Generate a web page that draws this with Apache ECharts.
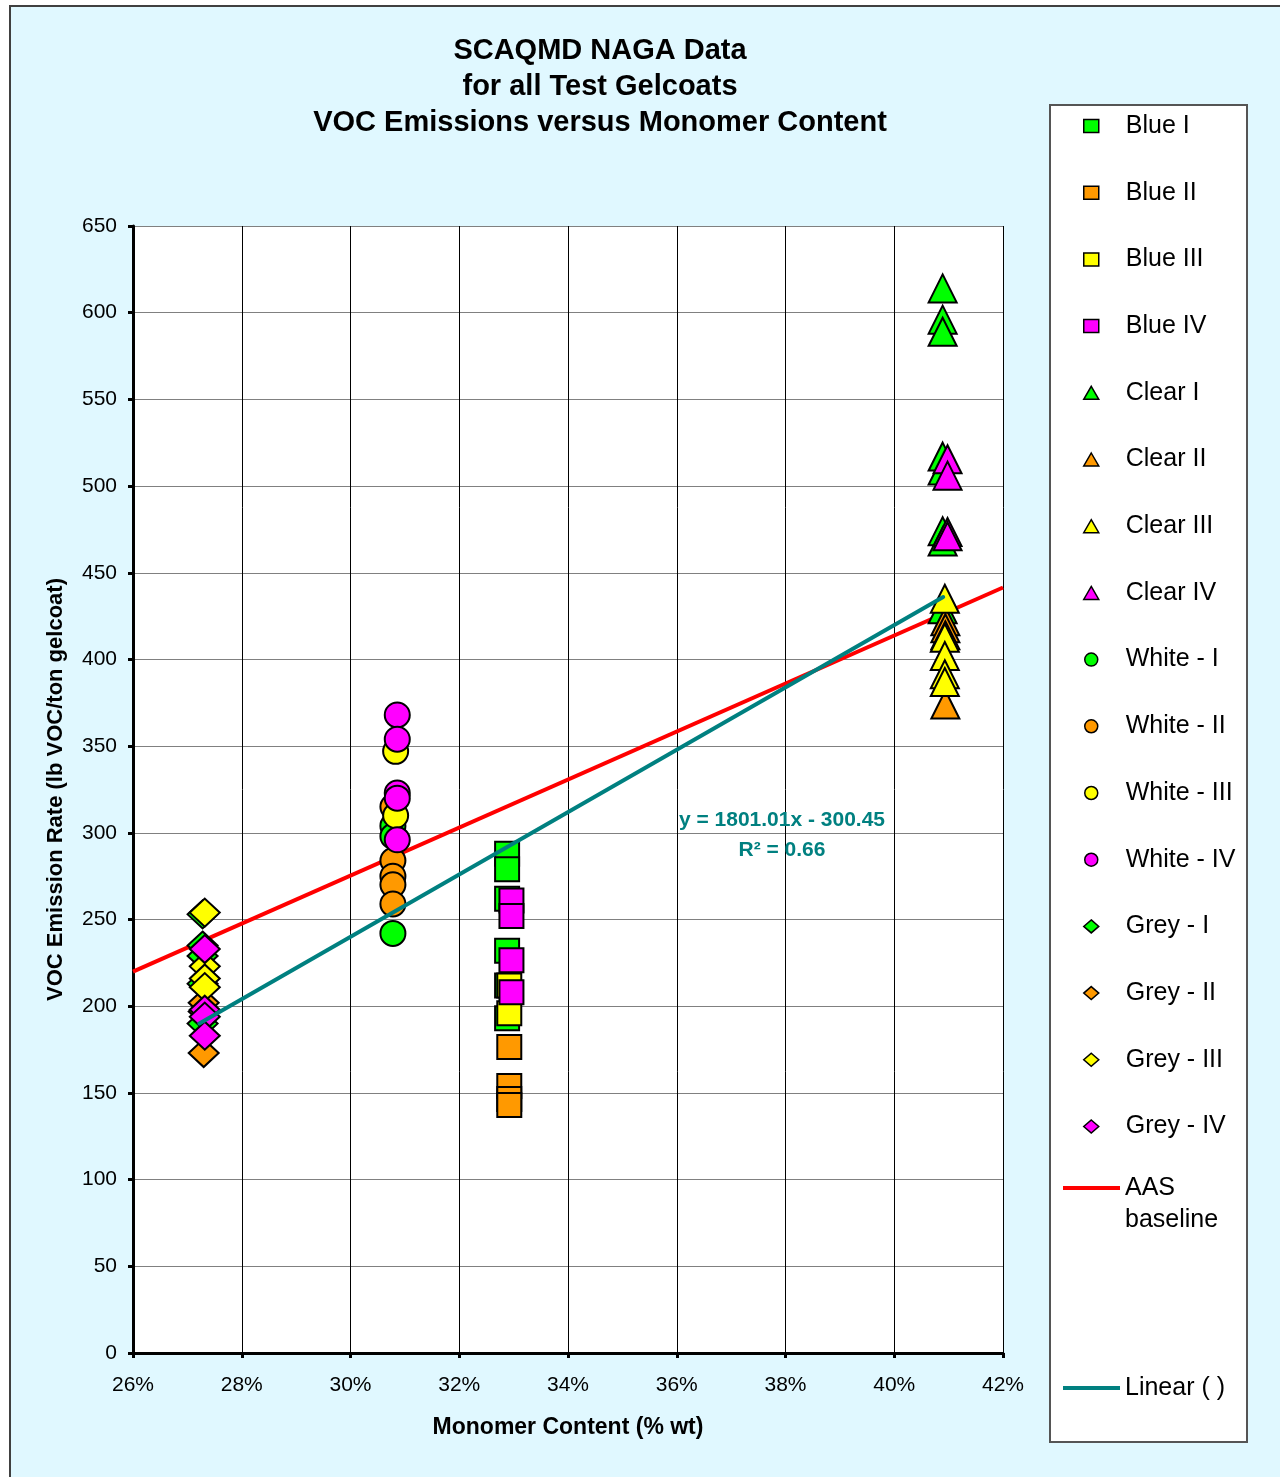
<!DOCTYPE html>
<html><head><meta charset="utf-8">
<script src="https://cdn.jsdelivr.net/npm/echarts@6/dist/echarts.min.js"></script>
<style>
html,body{margin:0;padding:0;background:#fff;width:1280px;height:1477px;overflow:hidden}
#frame{position:absolute;left:9px;top:5px;width:1400px;height:1600px;background:#E0F8FF;border-left:2px solid #404040;border-top:2px solid #404040;}
#chart{position:absolute;left:0;top:0;width:1280px;height:1477px}
</style></head><body><div id="frame"></div><div id="chart"></div>
<script>
// ---- data (x = monomer content %, y = VOC emission rate) ----
const xTicks = [26, 28, 30, 32, 34, 36, 38, 40, 42];
const yTicks = [0, 50, 100, 150, 200, 250, 300, 350, 400, 450, 500, 550, 600, 650];

const blueI_x = 32.88,  blueI   = [288, 279, 262, 232, 212, 193];
const blueII_x = 32.92, blueII  = [176.5, 154, 146.5, 143];
const blueIII_x = 32.92, blueIII = [212, 196];
const blueIV_x = 32.96, blueIV  = [261, 252, 226.5, 208];

const clearI_x = 40.89,  clearI   = [614, 596, 589, 517, 509, 474, 468, 429];
const clearII_x = 40.94, clearII  = [422, 418, 414, 374];
const clearIII_x = 40.93, clearIII = [435, 412.5, 402, 391.5, 387];
const clearIV_x = 40.98, clearIV  = [515.5, 506, 473.5, 471];

const whiteI_x = 30.78,  whiteI   = [304, 298, 242];
const whiteII_x = 30.78, whiteII  = [315, 284, 275, 270, 259];
const whiteIII_x = 30.83, whiteIII = [347, 310];
const whiteIV_x = 30.86, whiteIV  = [368, 354, 323, 320, 296];

const greyI_x = 27.28,  greyI   = [253, 235, 229, 213, 190];
const greyII_x = 27.3,  greyII  = [202, 197, 173];
const greyIII_x = 27.32, greyIII = [254, 223, 216, 211];
const greyIV_x = 27.32, greyIV  = [233, 198, 194, 183];

const aasX = [26, 42], aasY = [220, 441.5];
const trendX = [27.22, 40.9], trendY = [190, 436];

const FONT = 'Liberation Sans, Arial, sans-serif';
const C = {g:'#00FF00', o:'#FF9900', y:'#FFFF00', m:'#FF00FF'};

function sc(name, x, ys, symbol, size, color) {
  return {
    name, type: 'scatter', symbol, symbolSize: size, z: 2,
    data: ys.map(v => [x, v]),
    itemStyle: {color, borderColor: '#000', borderWidth: 2, opacity: 1},
    emphasis: {disabled: true}
  };
}

const scatterSeries = [
  sc('Blue I', blueI_x, blueI, 'rect', 24, C.g),
  sc('Blue II', blueII_x, blueII, 'rect', 24, C.o),
  sc('Blue III', blueIII_x, blueIII, 'rect', 24, C.y),
  sc('Blue IV', blueIV_x, blueIV, 'rect', 24, C.m),
  sc('Clear I', clearI_x, clearI, 'triangle', 28, C.g),
  sc('Clear II', clearII_x, clearII, 'triangle', 28, C.o),
  sc('Clear III', clearIII_x, clearIII, 'triangle', 28, C.y),
  sc('Clear IV', clearIV_x, clearIV, 'triangle', 28, C.m),
  sc('White - I', whiteI_x, whiteI, 'circle', 25, C.g),
  sc('White - II', whiteII_x, whiteII, 'circle', 25, C.o),
  sc('White - III', whiteIII_x, whiteIII, 'circle', 25, C.y),
  sc('White - IV', whiteIV_x, whiteIV, 'circle', 25, C.m),
  sc('Grey - I', greyI_x, greyI, 'diamond', [30, 28], C.g),
  sc('Grey - II', greyII_x, greyII, 'diamond', [30, 28], C.o),
  sc('Grey - III', greyIII_x, greyIII, 'diamond', [30, 28], C.y),
  sc('Grey - IV', greyIV_x, greyIV, 'diamond', [30, 28], C.m)
];

const legendText = {fontFamily: FONT, fontSize: 25, color: '#000'};

const chart = echarts.init(document.getElementById('chart'), null, {renderer: 'canvas'});
const option = {
  animation: false,
  backgroundColor: 'transparent',
  title: {
    text: 'SCAQMD NAGA Data\nfor all Test Gelcoats\nVOC Emissions versus Monomer Content',
    left: 600, top: 33, padding: 0, textAlign: 'center',
    textStyle: {fontFamily: FONT, fontSize: 29, fontWeight: 'bold', lineHeight: 36, color: '#000'}
  },
  grid: {left: 133, top: 226, width: 870, height: 1127, show: true, backgroundColor: '#fff', borderWidth: 0},
  xAxis: {
    type: 'value', min: 26, max: 42, interval: 2,
    name: 'Monomer Content (% wt)', nameLocation: 'middle', nameGap: 63,
    nameTextStyle: {fontFamily: FONT, fontSize: 23, fontWeight: 'bold', color: '#000'},
    axisLine: {onZero: false, lineStyle: {color: '#000', width: 3}},
    axisTick: {show: true, length: 5, lineStyle: {color: '#000', width: 3}},
    axisLabel: {formatter: '{value}%', fontFamily: FONT, fontSize: 21, color: '#000', margin: 22},
    splitLine: {show: true, lineStyle: {color: '#000', width: 1}}
  },
  yAxis: {
    type: 'value', min: 0, max: 650, interval: 50,
    name: 'VOC Emission Rate (lb VOC/ton gelcoat)', nameLocation: 'middle', nameGap: 66,
    nameTextStyle: {fontFamily: FONT, fontSize: 22, fontWeight: 'bold', color: '#000'},
    axisLine: {onZero: false, lineStyle: {color: '#000', width: 3}},
    axisTick: {show: true, length: 5, lineStyle: {color: '#000', width: 3}},
    axisLabel: {fontFamily: FONT, fontSize: 21, color: '#000', margin: 16},
    splitLine: {show: true, lineStyle: {color: '#808080', width: 1}}
  },
  legend: [
    {
      data: scatterSeries.map(s => s.name), orient: 'vertical', left: 1083, top: 112, padding: 0,
      itemWidth: 15, itemHeight: 13, itemGap: 38.7, selectedMode: false,
      itemStyle: {borderColor: '#000', borderWidth: 1.5},
      formatter: n => '{p| }' + n,
      textStyle: Object.assign({lineHeight: 28, rich: {p: {width: 22, fontSize: 25}}}, legendText)
    },
    {
      data: [{name: 'AAS baseline', icon: 'rect'}], orient: 'vertical', left: 1063, top: 1140, padding: 0,
      itemWidth: 57, itemHeight: 4, selectedMode: false,
      formatter: () => ' \nAAS\nbaseline',
      textStyle: Object.assign({lineHeight: 32}, legendText)
    },
    {
      data: [{name: 'Linear ( )', icon: 'rect'}], orient: 'vertical', left: 1063, top: 1374, padding: 0,
      itemWidth: 57, itemHeight: 4, selectedMode: false,
      textStyle: Object.assign({lineHeight: 28}, legendText)
    }
  ],
  graphic: [
    {type: 'rect', z: 1, shape: {x: 1050, y: 105, width: 197, height: 1337},
     style: {fill: '#fff', stroke: '#555', lineWidth: 2}},
    {type: 'text', z: 10, x: 782, y: 820,
     style: {text: 'y = 1801.01x - 300.45', fill: '#008080', font: 'bold 21px ' + FONT, align: 'center', verticalAlign: 'middle'}},
    {type: 'text', z: 10, x: 782, y: 850,
     style: {text: 'R² = 0.66', fill: '#008080', font: 'bold 21px ' + FONT, align: 'center', verticalAlign: 'middle'}}
  ],
  series: [
    ...scatterSeries,
    {
      name: 'AAS baseline', type: 'line', z: 1, color: '#FF0000', symbol: 'none', showSymbol: false,
      data: aasX.map((x, i) => [x, aasY[i]]),
      lineStyle: {color: '#FF0000', width: 4}, emphasis: {disabled: true}
    },
    {
      name: 'Linear ( )', type: 'line', z: 3, color: '#008080', symbol: 'none', showSymbol: false,
      data: trendX.map((x, i) => [x, trendY[i]]),
      lineStyle: {color: '#008080', width: 4, cap: 'round'}, emphasis: {disabled: true}
    }
  ]
};
chart.setOption(option);
</script>
</body></html>
